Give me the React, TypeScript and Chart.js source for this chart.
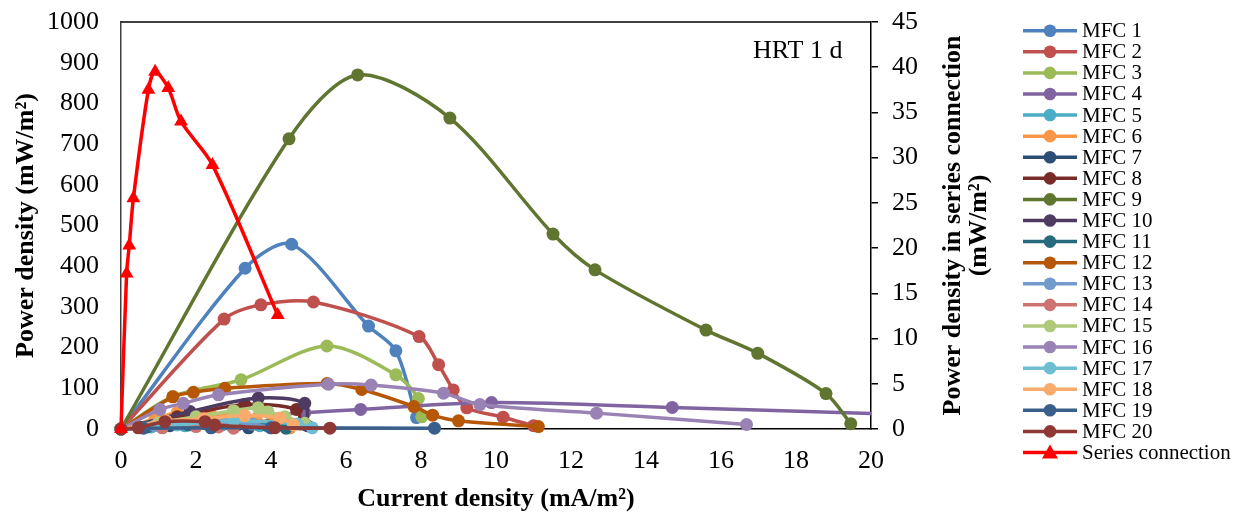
import React, { useEffect, useRef } from "react";
import { Chart, registerables } from "chart.js";
Chart.register(...registerables);

const FONT = '"Liberation Serif", "Times New Roman", serif';

const seriesNames = [
  "MFC 1", "MFC 2", "MFC 3", "MFC 4", "MFC 5", "MFC 6", "MFC 7", "MFC 8", "MFC 9", "MFC 10",
  "MFC 11", "MFC 12", "MFC 13", "MFC 14", "MFC 15", "MFC 16", "MFC 17", "MFC 18", "MFC 19", "MFC 20",
  "Series connection",
];
const seriesColors = [
  "#4F81BD", "#C0504D", "#9BBB59", "#8064A2", "#4BACC6", "#F79646", "#2C4D75", "#772C2A", "#5F7530", "#4D3B62",
  "#276A7C", "#B65708", "#729ACA", "#CD7371", "#AFC97A", "#9983B5", "#6FBDD1", "#F9AB6B", "#3A5F8B", "#8E3936",
  "#FF0000",
];

// Current density (mA/m2) and power density (mW/m2) for each MFC
const mfc1X = [0, 3.31, 4.55, 6.6, 7.33, 7.88];
const mfc1Y = [0, 395, 454, 253, 192, 28];
const mfc2X = [0, 2.75, 3.73, 5.13, 7.95, 8.47, 8.86, 9.22, 10.19, 11.0];
const mfc2Y = [0, 270, 305, 312, 227, 158, 96, 52, 29, 8];
const mfc3X = [0, 1.39, 3.2, 5.49, 7.33, 7.93, 8.02];
const mfc3Y = [0, 80, 121, 204, 133, 75, 30];
const mfc4X = [0, 2.2, 4.9, 6.39, 9.88, 14.7, 21.0];
const mfc4Y = [0, 25, 40, 48, 65, 53, 35];
const mfc5X = [0, 0.8, 1.7, 2.7, 3.7, 4.5];
const mfc5Y = [0, 5, 8, 10, 8, 3];
const mfc6X = [0, 0.9, 1.5, 2.4, 3.2, 3.6, 4.0, 4.5];
const mfc6Y = [0, 25, 40, 35, 40, 25, 15, 3];
const mfc7X = [0, 0.5, 1.3, 2.3, 3.1, 3.4];
const mfc7Y = [0, 4, 8, 12, 10, 3];
const mfc8X = [0, 1.5, 3.3, 4.68, 4.8];
const mfc8Y = [0, 30, 60, 48, 12];
const mfc9X = [0, 4.48, 6.31, 8.77, 11.52, 12.64, 15.6, 16.98, 18.8, 19.46];
const mfc9Y = [0, 713, 870, 764, 479, 391, 243, 186, 87, 13];
const mfc10X = [0, 1.84, 3.66, 4.9, 4.97];
const mfc10Y = [0, 43, 76, 63, 8];
const mfc11X = [0, 0.7, 1.8, 2.9, 3.9, 4.4];
const mfc11Y = [0, 5, 10, 12, 8, 2];
const mfc12X = [0, 1.38, 1.93, 2.77, 5.5, 6.42, 7.81, 8.31, 9.0, 11.13];
const mfc12Y = [0, 79, 90, 100, 112, 97, 55, 34, 20, 6];
const mfc13X = [0, 0.9, 1.9, 2.8, 3.5, 4.0];
const mfc13Y = [0, 8, 15, 18, 12, 3];
const mfc14X = [0, 1.1, 2.0, 2.6, 3.0];
const mfc14Y = [0, 3, 6, 5, 2];
const mfc15X = [0, 1.0, 2.0, 3.0, 3.66, 3.92, 4.37, 4.9];
const mfc15Y = [0, 15, 30, 45, 52, 42, 30, 14];
const mfc16X = [0, 1.04, 1.66, 2.6, 5.53, 6.67, 8.6, 9.57, 12.68, 16.68];
const mfc16Y = [0, 48, 63, 84, 110, 108, 88, 60, 39, 11];
const mfc17X = [0, 1.5, 3.0, 4.7, 5.1];
const mfc17Y = [0, 10, 20, 12, 3];
const mfc18X = [0, 1.2, 2.2, 3.3, 4.24, 4.6];
const mfc18Y = [0, 20, 25, 33, 27, 10];
const mfc19X = [0, 0.6, 2.4, 4.0, 8.36];
const mfc19Y = [0, 2, 3, 3, 2];
const mfc20X = [0, 0.46, 1.17, 2.24, 2.5, 4.1, 5.57];
const mfc20Y = [0, 3, 18, 18, 10, 3, 2];
// Series connection (right axis)
const seriesX = [0, 0.15, 0.22, 0.33, 0.73, 0.91, 1.26, 1.6, 2.44, 4.18];
const seriesY = [0, 17.2, 20.3, 25.5, 37.5, 39.5, 37.7, 34.0, 29.2, 12.6];

const allX = [mfc1X, mfc2X, mfc3X, mfc4X, mfc5X, mfc6X, mfc7X, mfc8X, mfc9X, mfc10X,
  mfc11X, mfc12X, mfc13X, mfc14X, mfc15X, mfc16X, mfc17X, mfc18X, mfc19X, mfc20X, seriesX];
const allY = [mfc1Y, mfc2Y, mfc3Y, mfc4Y, mfc5Y, mfc6Y, mfc7Y, mfc8Y, mfc9Y, mfc10Y,
  mfc11Y, mfc12Y, mfc13Y, mfc14Y, mfc15Y, mfc16Y, mfc17Y, mfc18Y, mfc19Y, mfc20Y, seriesY];

const xTitle = "Current density (mA/m²)";
const yTitle = "Power density (mW/m²)";
const y2TitleLines = ["Power density in series connection", "(mW/m²)"];
const annotation = "HRT 1 d";

const decorPlugin = {
  id: "decor",
  afterDraw(chart: any) {
    const { ctx, chartArea: ca } = chart;
    ctx.save();
    // top frame line
    ctx.strokeStyle = "#000";
    ctx.lineWidth = 1.5;
    ctx.beginPath();
    ctx.moveTo(ca.left, ca.top);
    ctx.lineTo(ca.right, ca.top);
    ctx.stroke();
    // annotation
    ctx.fillStyle = "#000";
    ctx.font = `26px ${FONT}`;
    ctx.textAlign = "left";
    ctx.textBaseline = "middle";
    ctx.fillText(annotation, ca.right - 118, ca.top + 29);
    // right axis title (two lines, reading bottom-to-top)
    ctx.font = `bold 26px ${FONT}`;
    ctx.textAlign = "center";
    const midY = (ca.top + ca.bottom) / 2;
    const xs = [ca.right + 82, ca.right + 108];
    y2TitleLines.forEach((t, i) => {
      ctx.save();
      ctx.translate(xs[i], midY);
      ctx.rotate(-Math.PI / 2);
      ctx.fillText(t, 0, 0);
      ctx.restore();
    });
    // legend
    const lx0 = ca.right + 152;
    const lx1 = ca.right + 206;
    const mx = (lx0 + lx1) / 2;
    ctx.font = `21px ${FONT}`;
    ctx.textAlign = "left";
    chart.data.datasets.forEach((ds: any, i: number) => {
      const y = ca.top + 8.7 + i * 21.09;
      ctx.strokeStyle = ds.borderColor;
      ctx.fillStyle = ds.borderColor;
      ctx.lineWidth = 3.5;
      ctx.beginPath();
      ctx.moveTo(lx0, y);
      ctx.lineTo(lx1, y);
      ctx.stroke();
      if (ds.pointStyle === "triangle") {
        ctx.beginPath();
        ctx.moveTo(mx, y - 8);
        ctx.lineTo(mx + 8, y + 6);
        ctx.lineTo(mx - 8, y + 6);
        ctx.closePath();
        ctx.fill();
      } else {
        ctx.beginPath();
        ctx.arc(mx, y, 6.3, 0, Math.PI * 2);
        ctx.fill();
      }
      ctx.fillStyle = "#000";
      ctx.fillText(ds.label, lx1 + 5, y + 1);
    });
    ctx.restore();
  },
};

const plainTick = (v: any) => String(v);

export default function App() {
  const ref = useRef<HTMLCanvasElement | null>(null);
  useEffect(() => {
    if (!ref.current) return;
    const n = seriesNames.length;
    const datasets = seriesNames.map((name, i) => {
      const isSeries = i === n - 1;
      return {
        label: name,
        data: allX[i].map((x, k) => ({ x, y: allY[i][k] })),
        borderColor: seriesColors[i],
        backgroundColor: seriesColors[i],
        pointBackgroundColor: seriesColors[i],
        pointBorderColor: seriesColors[i],
        pointBorderWidth: 0,
        borderWidth: 3.5,
        pointRadius: isSeries ? 8 : 6.5,
        pointStyle: isSeries ? "triangle" : "circle",
        showLine: true,
        tension: 0.3,
        yAxisID: isSeries ? "y2" : "y",
        order: n - i,
        clip: { left: 10, top: 10, right: 0, bottom: 10 },
      };
    });
    const chart = new Chart(ref.current, {
      type: "scatter",
      data: { datasets },
      options: {
        animation: false,
        responsive: false,
        devicePixelRatio: 1,
        layout: { padding: { top: 22, right: 244, left: 0, bottom: 0 } },
        plugins: { legend: { display: false }, tooltip: { enabled: false } },
        scales: {
          x: {
            type: "linear",
            min: 0,
            max: 20,
            ticks: { stepSize: 2, color: "#000", font: { family: FONT, size: 26 }, padding: 17, maxRotation: 0, callback: plainTick },
            grid: { display: false, drawTicks: false },
            border: { display: true, color: "#000", width: 1.5 },
            title: { display: true, text: xTitle, color: "#000", font: { family: FONT, size: 26, weight: "bold" }, padding: { top: 0, bottom: 1 } },
            afterFit: (s: any) => { s.height = 87; s.paddingLeft = 0; s.paddingRight = 0; },
          },
          y: {
            type: "linear",
            position: "left",
            min: 0,
            max: 1000,
            ticks: { stepSize: 100, color: "#000", font: { family: FONT, size: 26 }, padding: 22, callback: plainTick },
            grid: { display: false, drawTicks: false },
            border: { display: true, color: "#404040", width: 1.5 },
            title: { display: true, text: yTitle, color: "#000", font: { family: FONT, size: 26, weight: "bold" }, padding: { top: 11, bottom: 0 } },
            afterFit: (s: any) => { s.width = 121; s.paddingTop = 0; s.paddingBottom = 0; },
          },
          y2: {
            type: "linear",
            position: "right",
            min: 0,
            max: 45,
            ticks: { stepSize: 5, color: "#000", font: { family: FONT, size: 26 }, padding: 14, callback: plainTick },
            grid: { display: true, drawOnChartArea: false, drawTicks: true, tickLength: 7, color: "#000", lineWidth: 1.5 },
            border: { display: true, color: "#000", width: 1.5 },
            afterFit: (s: any) => { s.width = 130; s.paddingTop = 0; s.paddingBottom = 0; },
          },
        },
      },
      plugins: [decorPlugin],
    });
    return () => chart.destroy();
  }, []);
  return (
    <div style={{ position: "absolute", left: 0, top: 0, width: 1245, height: 516, background: "#fff" }}>
      <canvas ref={ref} width={1245} height={516} style={{ display: "block" }} />
    </div>
  );
}
